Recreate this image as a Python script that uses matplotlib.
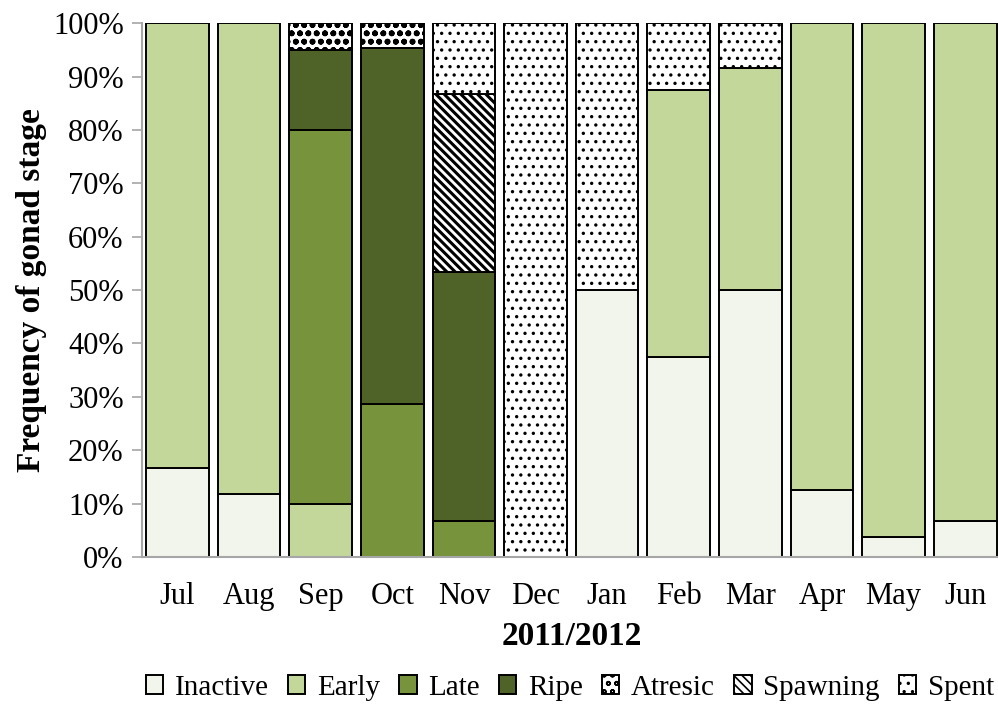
import matplotlib.pyplot as plt
import numpy as np

months = ['Jul', 'Aug', 'Sep', 'Oct', 'Nov', 'Dec', 'Jan', 'Feb', 'Mar', 'Apr', 'May', 'Jun']

# percentages per gonad stage
inactive = [16.7, 11.8, 0, 0, 0, 0, 50, 37.5, 50, 12.5, 3.7, 6.7]
early = [83.3, 88.2, 10, 0, 0, 0, 0, 50, 41.7, 87.5, 96.3, 93.3]
late = [0, 0, 70, 28.6, 6.7, 0, 0, 0, 0, 0, 0, 0]
ripe = [0, 0, 15, 66.7, 46.6, 0, 0, 0, 0, 0, 0, 0]
atresic = [0, 0, 5, 4.7, 0, 0, 0, 0, 0, 0, 0, 0]
spawning = [0, 0, 0, 0, 33.4, 0, 0, 0, 0, 0, 0, 0]
spent = [0, 0, 0, 0, 13.3, 100, 50, 12.5, 8.3, 0, 0, 0]

stages = ['Inactive', 'Early', 'Late', 'Ripe', 'Atresic', 'Spawning', 'Spent']
series = [inactive, early, late, ripe, atresic, spawning, spent]
colors = ['#F2F5EB', '#C4D79B', '#77933C', '#4F6228', 'white', 'white', 'white']
hatches = [None, None, None, None, 'oo', '\\\\\\\\', '..']
hatch_lw = [1.0, 1.0, 1.0, 1.0, 1.8, 2.2, 1.2]

plt.rcParams['font.family'] = 'Liberation Serif'

fig = plt.figure(figsize=(9.98, 7.04), dpi=100)
ax = fig.add_axes([0.142, 0.209, 0.861, 0.758])

x = np.arange(len(months))
bottom = np.zeros(len(months))
for name, vals, col, h, hlw in zip(stages, series, colors, hatches, hatch_lw):
    vals = np.array(vals, dtype=float)
    keep = vals > 0
    plt.rcParams['hatch.linewidth'] = hlw
    ax.bar(x[keep], vals[keep], 0.875, bottom=bottom[keep], color=col,
           edgecolor='black', linewidth=1.4, hatch=h, label=name)
    bottom += vals

ax.set_xlim(-0.5, len(months) - 0.5)
ax.set_ylim(0, 100)
ax.set_yticks(np.arange(0, 101, 10))
ax.set_yticklabels([f'{v}%' for v in range(0, 101, 10)])
ax.set_xticks(x)
ax.set_xticklabels(months)
ax.tick_params(axis='y', labelsize=22, length=7, width=1.2, color='#A6A6A6', pad=6)
ax.tick_params(axis='x', labelsize=22, length=0, pad=18)

for s in ['top', 'right']:
    ax.spines[s].set_visible(False)
for s in ['left', 'bottom']:
    ax.spines[s].set_color('#A6A6A6')
    ax.spines[s].set_linewidth(1.5)

ax.set_ylabel('Frequency of gonad stage', fontsize=24, fontweight='bold', labelpad=4)
ax.set_xlabel('2011/2012', fontsize=24, fontweight='bold', labelpad=7)

plt.rcParams['hatch.linewidth'] = 1.2
fig.legend(loc='center', bbox_to_anchor=(0.571, 0.023), ncol=7, frameon=False,
           fontsize=21, handlelength=0.6, handleheight=0.6, handletextpad=0.4,
           columnspacing=0.65, borderaxespad=0)

fig.savefig('out.png', dpi=100)
